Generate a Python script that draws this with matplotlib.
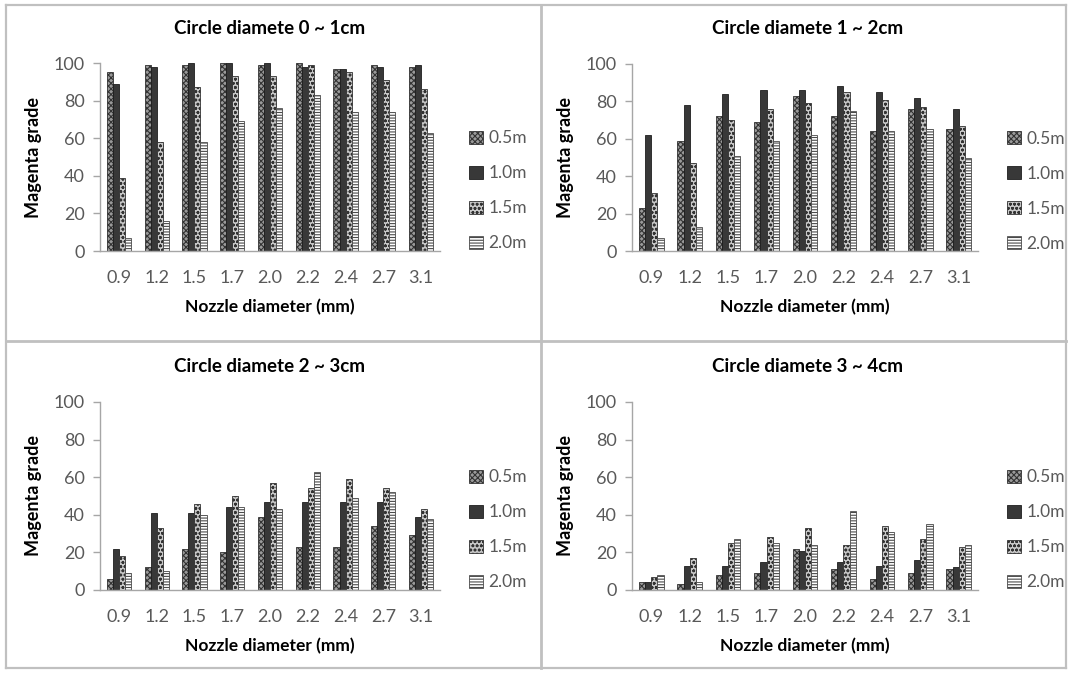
import matplotlib
matplotlib.use("Agg")
import matplotlib.pyplot as plt
import numpy as np
from matplotlib.lines import Line2D

plt.rcParams['font.family'] = ['Lato', 'DejaVu Sans']
plt.rcParams['hatch.linewidth'] = 0.8

nozzle = ["0.9", "1.2", "1.5", "1.7", "2.0", "2.2", "2.4", "2.7", "3.1"]
series = ["0.5m", "1.0m", "1.5m", "2.0m"]
titles = ["Circle diamete 0 ~ 1cm", "Circle diamete 1 ~ 2cm",
          "Circle diamete 2 ~ 3cm", "Circle diamete 3 ~ 4cm"]

# Circle diameter 0~1cm
c1_05 = [95, 99, 99, 100, 99, 100, 97, 99, 98]
c1_10 = [89, 98, 100, 100, 100, 98, 97, 98, 99]
c1_15 = [39, 58, 87, 93, 93, 99, 95, 91, 86]
c1_20 = [7, 16, 58, 69, 76, 83, 74, 74, 63]
# Circle diameter 1~2cm
c2_05 = [23, 59, 72, 69, 83, 72, 64, 76, 65]
c2_10 = [62, 78, 84, 86, 86, 88, 85, 82, 76]
c2_15 = [31, 47, 70, 76, 79, 85, 81, 77, 67]
c2_20 = [7, 13, 51, 59, 62, 75, 64, 65, 50]
# Circle diameter 2~3cm
c3_05 = [6, 12, 22, 20, 39, 23, 23, 34, 29]
c3_10 = [22, 41, 41, 44, 47, 47, 47, 47, 39]
c3_15 = [18, 33, 46, 50, 57, 54, 59, 54, 43]
c3_20 = [9, 10, 40, 44, 43, 63, 49, 52, 38]
# Circle diameter 3~4cm
c4_05 = [4, 3, 8, 9, 22, 11, 6, 9, 11]
c4_10 = [4, 13, 13, 15, 21, 15, 13, 16, 12]
c4_15 = [7, 17, 25, 28, 33, 24, 34, 27, 23]
c4_20 = [8, 4, 27, 25, 24, 42, 31, 35, 24]

panels = [
    [c1_05, c1_10, c1_15, c1_20],
    [c2_05, c2_10, c2_15, c2_20],
    [c3_05, c3_10, c3_15, c3_20],
    [c4_05, c4_10, c4_15, c4_20],
]

styles = [
    dict(facecolor='#9a9a9a', hatch='xxxxxx', edgecolor='#333333'),
    dict(facecolor='#383838', hatch=None, edgecolor='#1e1e1e'),
    dict(facecolor='#c8c8c8', hatch='oooo', edgecolor='#333333'),
    dict(facecolor='white', hatch='------', edgecolor='#4a4a4a'),
]

W, H = 1071, 673
fig = plt.figure(figsize=(W / 100, H / 100), dpi=100)

# axes rectangles in pixels: left, top, right, bottom
rects = [(100, 63, 440, 251), (632, 64, 978, 251),
         (100, 402, 440, 590), (632, 402, 978, 590)]
title_pos = [(270, 28), (808, 28), (270, 367), (808, 367)]

tick_gray = '#595959'
x = np.arange(len(nozzle))
bw = 0.16

for i, (rect, data) in enumerate(zip(rects, panels)):
    l, t, r, b = rect
    ax = fig.add_axes([l / W, 1 - b / H, (r - l) / W, (b - t) / H])
    for j, vals in enumerate(data):
        st = styles[j]
        ax.bar(x + (j - 1.5) * bw, vals, width=bw, facecolor=st['facecolor'],
               hatch=st['hatch'], edgecolor=st['edgecolor'], linewidth=0.6,
               label=series[j])
    ax.set_xlim(-0.5, len(nozzle) - 0.5)
    ax.set_ylim(0, 100)
    ax.set_yticks(range(0, 101, 20))
    ax.set_xticks(x)
    ax.set_xticklabels(nozzle)
    for s in ['top', 'right']:
        ax.spines[s].set_visible(False)
    ax.spines['left'].set_color('#a6a6a6')
    ax.spines['bottom'].set_color('#a6a6a6')
    ax.spines['left'].set_linewidth(1.0)
    ax.spines['bottom'].set_linewidth(1.0)
    ax.tick_params(axis='y', colors='#a6a6a6', labelcolor=tick_gray, labelsize=13,
                   length=5, width=1, direction='out', pad=6)
    ax.tick_params(axis='x', length=0, labelcolor=tick_gray, labelsize=13, pad=14)
    ax.set_ylabel("Magenta grade", fontsize=13, fontweight='bold', labelpad=8)
    ax.set_xlabel("Nozzle diameter (mm)", fontsize=12.5, fontweight='bold', labelpad=9)
    leg = ax.legend(loc='center left', bbox_to_anchor=(1.065, 0.32), frameon=False,
                    fontsize=12.5, handlelength=0.8, handleheight=0.8, handletextpad=0.3,
                    labelspacing=1.1, borderaxespad=0)
    for txt in leg.get_texts():
        txt.set_color(tick_gray)
    tx, ty = title_pos[i]
    fig.text(tx / W, 1 - ty / H, titles[i], ha='center', va='center',
             fontsize=13.5, fontweight='bold')

# panel borders
border = '#c0c0c0'
def line(x0, y0, x1, y1, lw=1.6):
    fig.add_artist(Line2D([x0 / W, x1 / W], [1 - y0 / H, 1 - y1 / H],
                          color=border, linewidth=lw, transform=fig.transFigure))

line(6, 5, 1066, 5)
line(6, 668, 1066, 668)
line(6, 5, 6, 668)
line(1066, 5, 1066, 668)
line(541, 5, 541, 668, lw=2)
line(6, 341, 1066, 341, lw=2)

fig.savefig("out.png", dpi=100)
